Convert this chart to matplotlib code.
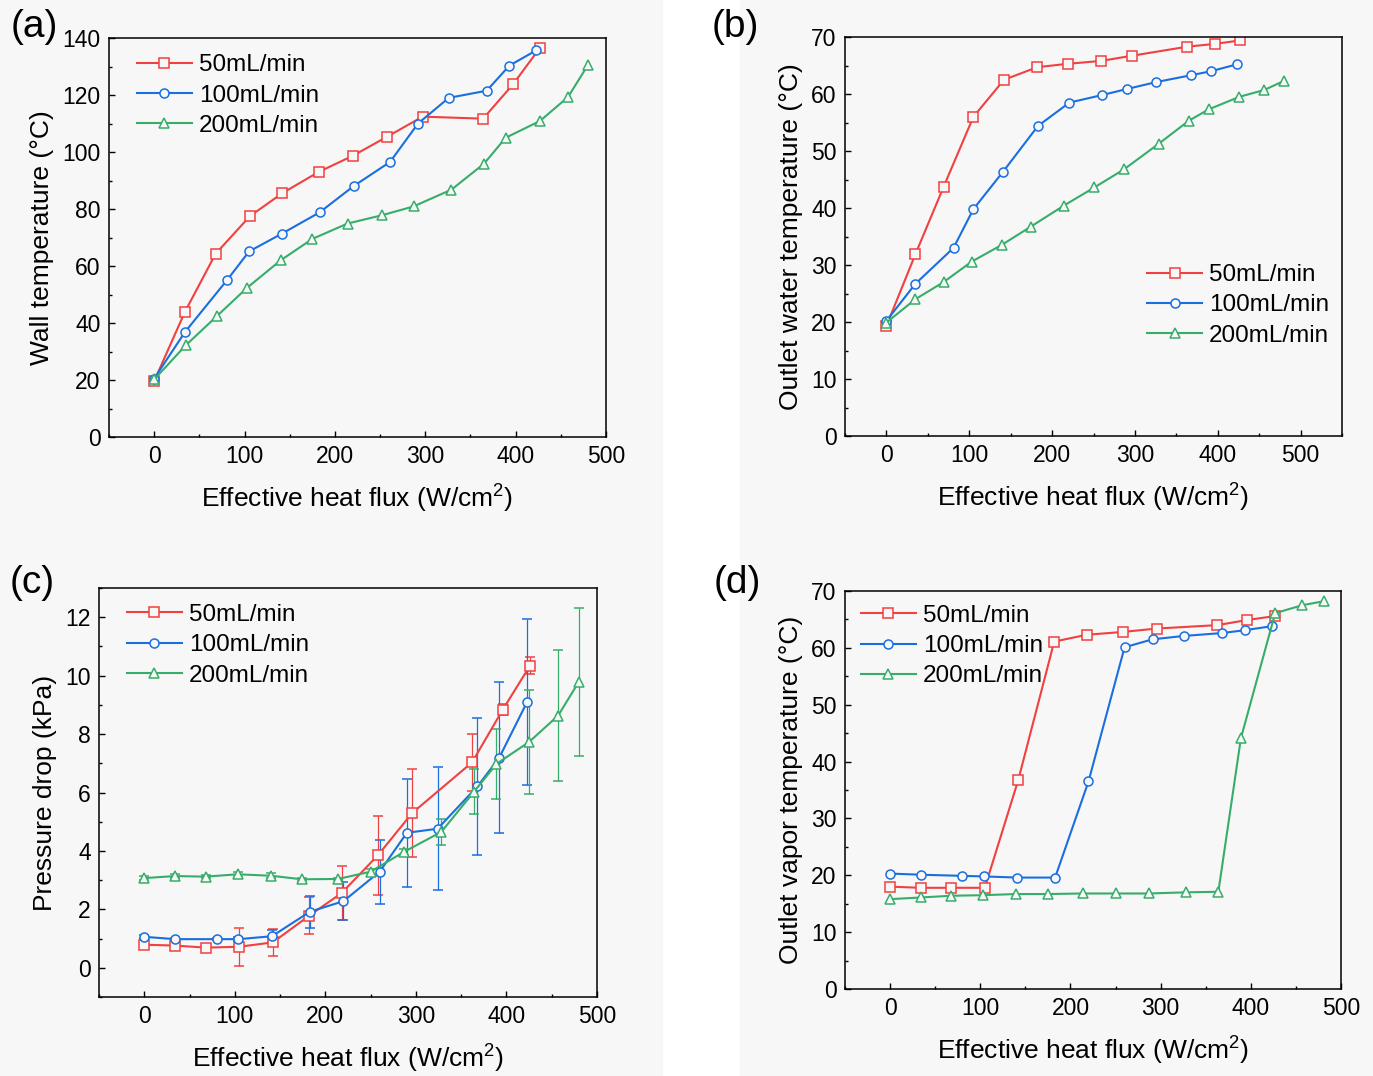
import numpy as np
import matplotlib
matplotlib.use("Agg")
import matplotlib.pyplot as plt
from matplotlib.patches import Rectangle
from matplotlib.ticker import MultipleLocator

plt.rcParams['font.family'] = ['Liberation Sans', 'DejaVu Sans']
plt.rcParams['mathtext.fontset'] = 'custom'
plt.rcParams['mathtext.rm'] = 'Liberation Sans'

labels = ['50mL/min', '100mL/min', '200mL/min']
colors = ['#F14040', '#1A6FDF', '#37AD6B']
markers = ['s', 'o', '^']

# (a) wall temperature
a_x50 = [0, 34, 68, 106, 142, 182, 220, 258, 297, 364, 397, 427]
a_y50 = [19.6, 43.9, 64.3, 77.5, 85.6, 93.0, 98.7, 105.4, 112.4, 111.7, 123.7, 136.6]
a_x100 = [0, 34, 81, 105, 141, 183, 221, 261, 292, 326, 368, 393, 423]
a_y100 = [20.5, 36.8, 55.2, 65.1, 71.3, 78.8, 88.1, 96.5, 110.0, 119.0, 121.5, 130.3, 135.7]
a_x200 = [0, 35, 69, 103, 140, 175, 214, 252, 287, 329, 365, 389, 427, 458, 480]
a_y200 = [20.2, 32.2, 42.3, 52.4, 62.0, 69.5, 74.9, 77.8, 80.9, 86.8, 95.9, 105.0, 110.9, 119.3, 130.5]

# (b) outlet water temperature
b_x50 = [0, 35, 69, 105, 142, 182, 219, 259, 296, 363, 397, 427]
b_y50 = [19.3, 31.9, 43.7, 56.0, 62.5, 64.7, 65.3, 65.8, 66.7, 68.3, 68.8, 69.4]
b_x100 = [0, 35, 81, 105, 141, 183, 221, 260, 291, 326, 368, 392, 423]
b_y100 = [20.2, 26.7, 33.0, 39.8, 46.4, 54.4, 58.5, 59.8, 60.9, 62.1, 63.3, 64.0, 65.2]
b_x200 = [0, 35, 69, 103, 139, 174, 214, 251, 287, 329, 365, 389, 426, 456, 480]
b_y200 = [19.9, 24.0, 27.0, 30.6, 33.5, 36.7, 40.4, 43.6, 46.8, 51.3, 55.3, 57.3, 59.5, 60.7, 62.3]

# (c) pressure drop with error bars
c_x50 = [0, 34, 68, 105, 142, 182, 218, 258, 296, 362, 396, 426]
c_y50 = [0.79, 0.76, 0.69, 0.72, 0.87, 1.78, 2.56, 3.85, 5.30, 7.03, 8.84, 10.34]
c_e50 = [0.05, 0.05, 0.06, 0.65, 0.46, 0.64, 0.94, 1.35, 1.50, 0.97, 0.20, 0.30]
c_x100 = [0, 34, 80, 104, 141, 183, 220, 260, 290, 324, 368, 392, 423]
c_y100 = [1.06, 0.98, 0.98, 0.98, 1.08, 1.92, 2.28, 3.29, 4.62, 4.76, 6.21, 7.19, 9.11]
c_e100 = [0.05, 0.04, 0.04, 0.06, 0.20, 0.55, 0.65, 1.10, 1.85, 2.10, 2.35, 2.58, 2.84]
c_x200 = [0, 34, 68, 103, 140, 174, 214, 250, 287, 328, 364, 389, 425, 457, 480]
c_y200 = [3.07, 3.14, 3.12, 3.20, 3.15, 3.03, 3.04, 3.29, 3.97, 4.65, 6.02, 6.98, 7.73, 8.63, 9.79]
c_e200 = [0.06, 0.06, 0.05, 0.08, 0.08, 0.05, 0.05, 0.10, 0.10, 0.45, 0.77, 1.20, 1.77, 2.24, 2.53]

# (d) outlet vapor temperature
d_x50 = [0, 34, 68, 105, 142, 182, 218, 258, 296, 363, 396, 427]
d_y50 = [18.0, 17.8, 17.8, 17.8, 36.7, 61.1, 62.3, 62.8, 63.4, 64.0, 64.9, 65.6]
d_x100 = [0, 34, 80, 104, 141, 183, 220, 260, 291, 326, 368, 393, 423]
d_y100 = [20.3, 20.1, 19.9, 19.8, 19.6, 19.6, 36.5, 60.1, 61.5, 62.1, 62.6, 63.1, 63.8]
d_x200 = [0, 34, 68, 103, 140, 175, 214, 251, 287, 328, 364, 389, 427, 457, 481]
d_y200 = [15.8, 16.1, 16.4, 16.5, 16.7, 16.7, 16.8, 16.8, 16.8, 17.0, 17.1, 44.1, 66.1, 67.5, 68.2]

W, H = 1373, 1076
fig = plt.figure(figsize=(W / 100, H / 100), dpi=100, facecolor='white')

# light grey panel backgrounds
bg = '#f7f7f7'
fig.patches.append(Rectangle((0, 0), 662 / W, 1, transform=fig.transFigure, color=bg, zorder=-10))
fig.patches.append(Rectangle((740 / W, 0), 1 - 740 / W, 1, transform=fig.transFigure, color=bg, zorder=-10))


def px_axes(l, t, r, b):
    return fig.add_axes([l / W, 1 - b / H, (r - l) / W, (b - t) / H])


def style(ax, xlim, ylim, ymaj, ymin, ylabel):
    ax.set_facecolor(bg)
    ax.set_xlim(*xlim)
    ax.set_ylim(*ylim)
    ax.xaxis.set_major_locator(MultipleLocator(100))
    ax.xaxis.set_minor_locator(MultipleLocator(50))
    ax.yaxis.set_major_locator(MultipleLocator(ymaj))
    ax.yaxis.set_minor_locator(MultipleLocator(ymin))
    ax.tick_params(which='both', direction='in', labelsize=16.5, width=1)
    ax.tick_params(axis='y', which='major', length=4.5, pad=6)
    ax.tick_params(axis='x', which='major', length=4.5, pad=6)
    ax.tick_params(which='minor', length=2.5)
    for s in ax.spines.values():
        s.set_linewidth(1.1)
    ax.set_xlabel('Effective heat flux (W/cm$^2$)', fontsize=19, labelpad=9)
    ax.set_ylabel(ylabel, fontsize=19, labelpad=6)


def draw(ax, xs, ys, errs=None):
    handles = []
    for i in range(3):
        kw = dict(color=colors[i], marker=markers[i], markersize=6.5, markerfacecolor=bg,
                  markeredgewidth=1.1, linewidth=1.5, label=labels[i])
        if errs is None:
            ln, = ax.plot(xs[i], ys[i], **kw)
        else:
            cont = ax.errorbar(xs[i], ys[i], yerr=errs[i], elinewidth=0.9, capsize=3.5,
                               capthick=0.9, ecolor=colors[i], **kw)
            ln = cont.lines[0]
        handles.append(ln)
    return handles


def legend(ax, handles, anchor):
    ax.legend(handles, labels, loc='upper left', bbox_to_anchor=anchor, frameon=False,
              fontsize=17.5, handlelength=2.25, handletextpad=0.3, labelspacing=0.34,
              borderpad=0, borderaxespad=0)


ax_a = px_axes(109, 38, 606, 437)
h = draw(ax_a, [a_x50, a_x100, a_x200], [a_y50, a_y100, a_y200])
style(ax_a, (-50, 500), (0, 140), 20, 10, 'Wall temperature (°C)')
legend(ax_a, h, (0.056, 0.959))

ax_b = px_axes(845, 37, 1342, 436)
h = draw(ax_b, [b_x50, b_x100, b_x200], [b_y50, b_y100, b_y200])
style(ax_b, (-50, 550), (0, 70), 10, 5, 'Outlet water temperature (°C)')
legend(ax_b, h, (0.608, 0.431))

ax_c = px_axes(99, 588, 597, 997)
h = draw(ax_c, [c_x50, c_x100, c_x200], [c_y50, c_y100, c_y200], [c_e50, c_e100, c_e200])
style(ax_c, (-50, 500), (-1, 13), 2, 1, 'Pressure drop (kPa)')
legend(ax_c, h, (0.056, 0.961))

ax_d = px_axes(845, 591, 1341, 989)
h = draw(ax_d, [d_x50, d_x100, d_x200], [d_y50, d_y100, d_y200])
style(ax_d, (-50, 500), (0, 70), 10, 5, 'Outlet vapor temperature (°C)')
legend(ax_d, h, (0.032, 0.965))

for txt, x, y in [('(a)', 34, 27), ('(b)', 735, 27), ('(c)', 32, 583), ('(d)', 737, 583)]:
    fig.text(x / W, 1 - y / H, txt, fontsize=28, ha='center', va='center')

fig.savefig('out.png', dpi=100, facecolor=fig.get_facecolor())
